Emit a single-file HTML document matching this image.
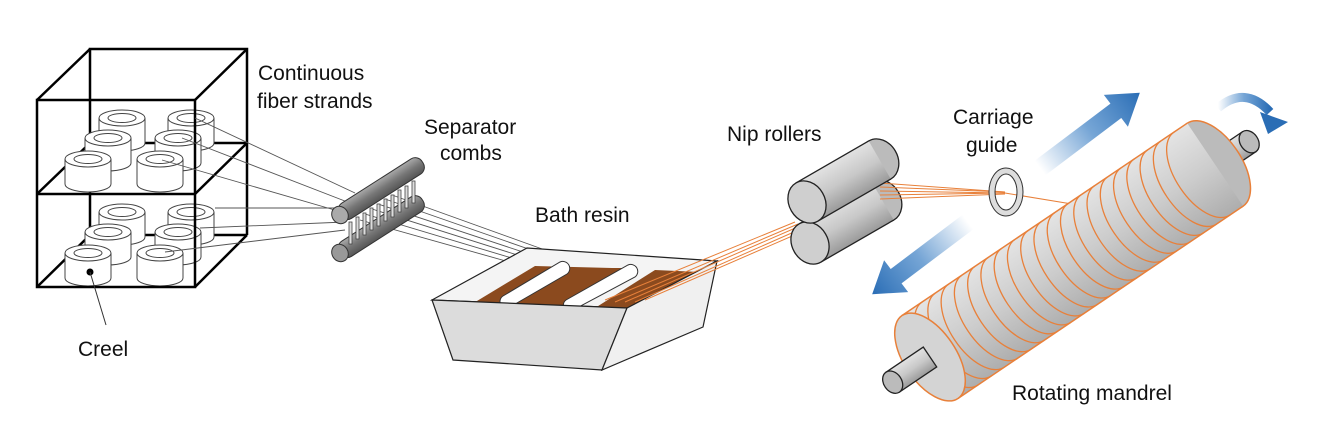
<!DOCTYPE html>
<html><head><meta charset="utf-8"><style>
html,body{margin:0;padding:0;background:#fff;}
svg{display:block;}
text{font-family:"Liberation Sans",sans-serif;font-size:21px;fill:#111;}
</style></head><body>
<svg width="1320" height="442" viewBox="0 0 1320 442" xmlns="http://www.w3.org/2000/svg">
<defs>
<linearGradient id="cyl" x1="0" y1="0" x2="0" y2="1">
<stop offset="0" stop-color="#e2e2e2"/><stop offset="0.5" stop-color="#c8c8c8"/><stop offset="1" stop-color="#9a9a9a"/></linearGradient>
<linearGradient id="cylL" x1="0" y1="0" x2="0" y2="1">
<stop offset="0" stop-color="#e4e4e4"/><stop offset="0.5" stop-color="#cccccc"/><stop offset="1" stop-color="#adadad"/></linearGradient>
<linearGradient id="rod" x1="0" y1="0" x2="0" y2="1">
<stop offset="0" stop-color="#aaa"/><stop offset="0.5" stop-color="#777"/><stop offset="1" stop-color="#555"/></linearGradient>
<linearGradient id="arr" x1="0" y1="0" x2="1" y2="0">
<stop offset="0" stop-color="#3b7fc4" stop-opacity="0"/><stop offset="0.5" stop-color="#3b7fc4" stop-opacity="0.7"/><stop offset="1" stop-color="#2a6db5"/></linearGradient>
<g id="spool">
<path d="M-23,0 L-23,25 A23,8 0 0 0 23,25 L23,0" fill="#fff" stroke="#444" stroke-width="1"/>
<ellipse cx="0" cy="0" rx="23" ry="8" fill="#fff" stroke="#444" stroke-width="1"/>
<ellipse cx="0" cy="0" rx="14" ry="4.5" fill="#fff" stroke="#444" stroke-width="1"/>
</g>
</defs>

<g stroke="#000" stroke-width="2.5" fill="none">
<polyline points="90,235 90,49 247,49 247,235"/>
<line x1="90" y1="143" x2="37" y2="194"/>
<line x1="90" y1="235" x2="37" y2="287"/>
<polyline points="90,143 247,143"/>
<polyline points="90,235 247,235"/>
</g>
<use href="#spool" x="122" y="118"/>
<use href="#spool" x="191" y="118"/>
<use href="#spool" x="108" y="138"/>
<use href="#spool" x="178" y="138"/>
<use href="#spool" x="88" y="159"/>
<use href="#spool" x="160" y="159"/>
<use href="#spool" x="122" y="212"/>
<use href="#spool" x="191" y="212"/>
<use href="#spool" x="108" y="232"/>
<use href="#spool" x="178" y="232"/>
<use href="#spool" x="88" y="253"/>
<use href="#spool" x="160" y="253"/>
<g stroke="#000" stroke-width="2.5" fill="none">
<rect x="37" y="100" width="158" height="187"/>
<line x1="37" y1="194" x2="195" y2="194"/>
<line x1="37" y1="100" x2="90" y2="49"/>
<line x1="195" y1="100" x2="247" y2="49"/>
<line x1="195" y1="194" x2="247" y2="143"/>
<line x1="195" y1="287" x2="247" y2="235"/>
</g>
<circle cx="90" cy="272" r="3.5" fill="#000"/>
<line x1="90" y1="272" x2="106" y2="325" stroke="#333" stroke-width="1"/>

<g stroke="#555" stroke-width="0.9" fill="none">
<line x1="195" y1="118" x2="355" y2="193"/>
<line x1="182" y1="138" x2="350" y2="203"/>
<line x1="162" y1="160" x2="345" y2="213"/>
<line x1="215" y1="208" x2="345" y2="208"/>
<line x1="200" y1="228" x2="345" y2="222"/>
<line x1="165" y1="252" x2="345" y2="230"/>
<line x1="360" y1="220" x2="520" y2="265"/>
<line x1="365" y1="214" x2="525" y2="262"/>
<line x1="372" y1="209" x2="530" y2="259"/>
<line x1="378" y1="204" x2="535" y2="256"/>
<line x1="385" y1="199" x2="540" y2="253"/>
<line x1="392" y1="195" x2="545" y2="250"/>
</g>
<g transform="translate(340,253) rotate(-32.6)">
<rect x="0" y="-9" width="98" height="18" rx="8" fill="url(#rod)" stroke="#333" stroke-width="1"/>
<ellipse cx="0" cy="0" rx="8" ry="9" fill="#999" stroke="#333"/>
</g>
<g stroke="#444" stroke-width="0.8" fill="#ddd">
<rect x="349" y="222" width="3" height="22"/><rect x="356" y="217" width="3" height="22"/>
<rect x="363" y="213" width="3" height="22"/><rect x="370" y="208" width="3" height="22"/>
<rect x="377" y="204" width="3" height="22"/><rect x="384" y="199" width="3" height="22"/>
<rect x="391" y="195" width="3" height="22"/><rect x="398" y="190" width="3" height="22"/>
<rect x="405" y="186" width="3" height="22"/><rect x="412" y="181" width="3" height="22"/>
</g>
<g transform="translate(340,215) rotate(-32.6)">
<rect x="0" y="-9" width="98" height="18" rx="8" fill="url(#rod)" stroke="#333" stroke-width="1"/>
<ellipse cx="0" cy="0" rx="8" ry="9" fill="#aaa" stroke="#333"/>
</g>

<polygon points="432,300 527,248 717,261 627,308" fill="#f4f4f4" stroke="#222" stroke-width="1.2"/>
<polygon points="472,304 535,266 612,268 548,306" fill="#8b4a1e"/>
<polygon points="540,306 600,268 625,268 568,306" fill="#8b4a1e"/>
<polygon points="595,308 655,270 700,272 628,308" fill="#8b4a1e"/>
<g stroke="#333" stroke-width="1" fill="#fff">
<path d="M503,296 L560,262 A7,7 0 0 1 567,274 L510,307 A6,6 0 0 1 503,296Z"/>
<path d="M566,300 L628,265 A7,7 0 0 1 635,277 L573,310 A6,6 0 0 1 566,300Z"/>
</g>
<polygon points="432,300 627,308 602,370 453,360" fill="#dcdcdc" stroke="#222" stroke-width="1.2"/>
<polygon points="627,308 717,261 703,327 602,370" fill="#f0f0f0" stroke="#222" stroke-width="1.2"/>

<g stroke="#e8803a" stroke-width="1" fill="none">
<line x1="605" y1="300" x2="795" y2="222"/>
<line x1="615" y1="302" x2="798" y2="224"/>
<line x1="625" y1="302" x2="800" y2="226"/>
<line x1="635" y1="302" x2="803" y2="228"/>
<line x1="645" y1="300" x2="806" y2="230"/>
</g>
<g transform="translate(810,243) rotate(-30)">
<ellipse cx="84" cy="0" rx="18" ry="22" fill="#bbb" stroke="#222" stroke-width="1.3"/>
<rect x="0" y="-22" width="84" height="44" fill="url(#cyl)"/>
<line x1="0" y1="-22" x2="84" y2="-22" stroke="#222" stroke-width="1.3"/>
<line x1="0" y1="22" x2="84" y2="22" stroke="#222" stroke-width="1.3"/>
<ellipse cx="0" cy="0" rx="18" ry="22" fill="#cfcfcf" stroke="#222" stroke-width="1.3"/>
</g>
<g stroke="#e8803a" stroke-width="1" fill="none">
<line x1="880" y1="183" x2="1005" y2="192"/>
<line x1="880" y1="187" x2="1005" y2="192"/>
<line x1="880" y1="191" x2="1005" y2="193"/>
<line x1="880" y1="195" x2="1005" y2="193"/>
<line x1="880" y1="199" x2="1005" y2="194"/>
<line x1="1005" y1="193" x2="1078" y2="205"/>
</g>
<g transform="translate(807,202) rotate(-30)">
<ellipse cx="84" cy="0" rx="18" ry="22" fill="#bbb" stroke="#222" stroke-width="1.3"/>
<rect x="0" y="-22" width="84" height="44" fill="url(#cyl)"/>
<line x1="0" y1="-22" x2="84" y2="-22" stroke="#222" stroke-width="1.3"/>
<line x1="0" y1="22" x2="84" y2="22" stroke="#222" stroke-width="1.3"/>
<ellipse cx="0" cy="0" rx="18" ry="22" fill="#cfcfcf" stroke="#222" stroke-width="1.3"/>
</g>

<ellipse cx="1006" cy="192" rx="14" ry="21" fill="none" stroke="#333" stroke-width="7"/>
<ellipse cx="1006" cy="192" rx="14" ry="21" fill="none" stroke="#ddd" stroke-width="5"/>

<g transform="translate(1040,168) rotate(-37)">
<polygon points="0,-9 95,-9 95,-20 125,0 95,20 95,9 0,9" fill="url(#arr)"/>
</g>
<g transform="translate(968,222) rotate(143)">
<polygon points="0,-9 90,-9 90,-20 120,0 90,20 90,9 0,9" fill="url(#arr)"/>
</g>
<path d="M1218,108 Q1245,85 1270,112" fill="none" stroke="url(#arr)" stroke-width="9"/>
<polygon points="1260,112 1288,122 1268,134" fill="#2a6db5"/>

<g transform="translate(930,357) rotate(-34)">
<rect x="330" y="-12" width="55" height="24" fill="url(#cyl)" stroke="#222" stroke-width="1.3"/>
<ellipse cx="385" cy="0" rx="9" ry="12" fill="#bbb" stroke="#222" stroke-width="1.3"/>
<ellipse cx="344" cy="0" rx="26" ry="50" fill="#bbb" stroke="#e8803a" stroke-width="1.5"/>
<rect x="0" y="-50" width="344" height="100" fill="url(#cylL)"/>
<line x1="0" y1="-50" x2="344" y2="-50" stroke="#e8803a" stroke-width="1.5"/>
<line x1="0" y1="50" x2="344" y2="50" stroke="#e8803a" stroke-width="1.5"/>
<g fill="none" stroke="#e8803a" stroke-width="1.3">
<path d="M24,-50 A26,50 0 0 0 24,50"/><path d="M40,-50 A26,50 0 0 0 40,50"/>
<path d="M56,-50 A26,50 0 0 0 56,50"/><path d="M72,-50 A26,50 0 0 0 72,50"/>
<path d="M88,-50 A26,50 0 0 0 88,50"/><path d="M104,-50 A26,50 0 0 0 104,50"/>
<path d="M120,-50 A26,50 0 0 0 120,50"/><path d="M136,-50 A26,50 0 0 0 136,50"/>
<path d="M152,-50 A26,50 0 0 0 152,50"/><path d="M168,-50 A26,50 0 0 0 168,50"/>
<path d="M184,-50 A26,50 0 0 0 184,50"/><path d="M200,-50 A26,50 0 0 0 200,50"/>
<path d="M216,-50 A26,50 0 0 0 216,50"/><path d="M232,-50 A26,50 0 0 0 232,50"/>
<path d="M248,-50 A26,50 0 0 0 248,50"/><path d="M264,-50 A26,50 0 0 0 264,50"/>
<path d="M280,-50 A26,50 0 0 0 280,50"/><path d="M296,-50 A26,50 0 0 0 296,50"/>
<path d="M312,-50 A26,50 0 0 0 312,50"/><path d="M328,-50 A26,50 0 0 0 328,50"/>
</g>
<ellipse cx="0" cy="0" rx="26" ry="50" fill="#d4d4d4" stroke="#e8803a" stroke-width="1.5"/>
<rect x="-45" y="-12" width="45" height="24" fill="url(#cyl)" stroke="#222" stroke-width="1.3"/>
<ellipse cx="-45" cy="0" rx="9" ry="12" fill="#bbb" stroke="#222" stroke-width="1.3"/>
</g>

<text x="258" y="80">Continuous</text>
<text x="257" y="108">fiber strands</text>
<text x="424" y="134">Separator</text>
<text x="440" y="160">combs</text>
<text x="535" y="222">Bath resin</text>
<text x="727" y="141">Nip rollers</text>
<text x="953" y="124">Carriage</text>
<text x="966" y="152">guide</text>
<text x="78" y="356">Creel</text>
<text x="1012" y="400">Rotating mandrel</text>
</svg>
</body></html>
